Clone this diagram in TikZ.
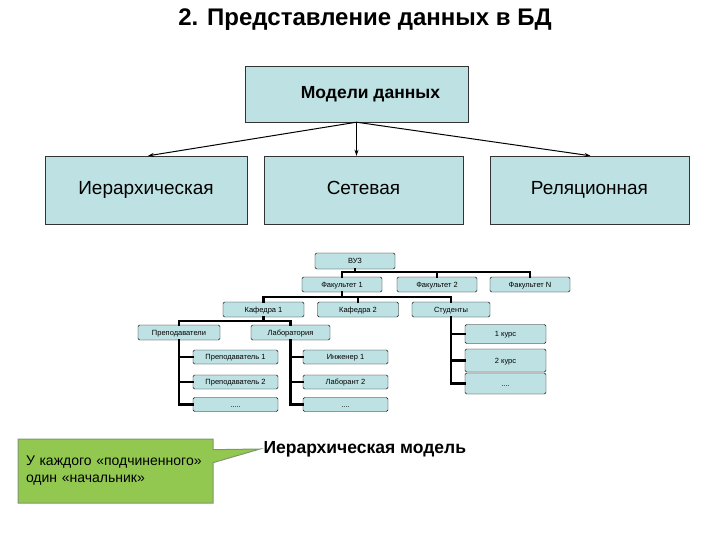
\documentclass[tikz,border=0pt]{standalone}
\usepackage{fontspec}
\setmainfont{Liberation Sans}
\usetikzlibrary{shapes.callouts,positioning,arrows.meta}
\definecolor{boxfill}{RGB}{190,226,228}
\definecolor{notefill}{RGB}{146,200,80}
\definecolor{noteedge}{RGB}{125,150,110}

\begin{document}
\begin{tikzpicture}[x=1pt, y=-1pt,
    bigbox/.style={rectangle, draw=black!80, fill=boxfill, minimum width=200pt, minimum height=68pt, font=\fontsize{19}{21}\selectfont, inner sep=0pt, text height=0.9em, text depth=0.05em},
    treebox/.style={rectangle, rounded corners=1.5pt, draw=black, fill=boxfill, minimum width=80pt, minimum height=15pt, font=\fontsize{7.5}{8}\selectfont, inner sep=0pt, text height=0.72em, text depth=0.2em},
    arrow/.style={-{Stealth[length=6pt, width=4pt]}, line width=1pt},
    bus/.style={line width=2.2pt, line cap=rect},
]
\useasboundingbox (0,0) rectangle (720,540);

% Title
\node[font=\bfseries\fontsize{24}{26}\selectfont] (title) at (365,20) {2. Представление данных в БД};

% Types of data models
\node[bigbox, minimum width=223pt, minimum height=56pt, font=\bfseries\fontsize{17.5}{20}\selectfont] (models) at (356.5,94) {\hspace*{28pt}Модели данных};
\node[bigbox, minimum width=202pt] (hier) at (146,190) {Иерархическая};
\node[bigbox, minimum width=199pt] (net) at (363.5,190) {Сетевая};
\node[bigbox, minimum width=199pt] (rel) at (589.5,190) {Реляционная};

\draw[arrow] (models.south) -- ([xshift=2pt]hier.north);
\draw[arrow] (models.south) -- (models.south |- net.north);
\draw[arrow] (models.south) -- ([xshift=1pt]rel.north);

% Hierarchical example tree
\node[treebox, minimum height=16pt] (vuz) at (355,261) {ВУЗ};
\node[treebox] (fac1) at (342,284.5) {Факультет 1};
\node[treebox] (fac2) at (437,284.5) {Факультет 2};
\node[treebox] (facN) at (530,284.5) {Факультет N};

\node[treebox, minimum width=81pt] (kaf1) at (263.5,309.5) {Кафедра 1};
\node[treebox, minimum width=81pt] (kaf2) at (358,309.5) {Кафедра 2};
\node[treebox, minimum width=78pt] (stud) at (451,309.5) {Студенты};

\node[treebox, minimum width=82pt] (prep) at (179,332.5) {Преподаватели};
\node[treebox, minimum width=79pt] (lab) at (290.5,332.5) {Лаборатория};

\node[treebox, minimum width=85pt, minimum height=14pt] (prep1) at (235.5,357) {Преподаватель 1};
\node[treebox, minimum width=85pt, minimum height=14pt] (prep2) at (235.5,382) {Преподаватель 2};
\node[treebox, minimum width=85pt, minimum height=14pt] (prepd) at (235.5,404.5) {.....};

\node[treebox, minimum width=85pt, minimum height=14pt] (eng1) at (345.5,357) {Инженер 1};
\node[treebox, minimum width=85pt, minimum height=14pt] (lbr2) at (345.5,382) {Лаборант 2};
\node[treebox, minimum width=85pt, minimum height=14pt] (labd) at (345.5,404.5) {....};

\node[treebox, minimum width=81pt, minimum height=19pt] (kurs1) at (505.5,334) {1 курс};
\node[treebox, minimum width=81pt, minimum height=23pt] (kurs2) at (505.5,360.5) {2 курс};
\node[treebox, minimum width=81pt, minimum height=21pt] (kursd) at (505.5,383.5) {....};

% Tree connectors
\coordinate (b1) at (355,272);
\draw[bus] (vuz.south) -- (b1);
\draw[bus] (fac1.north) |- (b1) -| (facN.north);
\draw[bus] (b1 -| fac2.north) -- (fac2.north);

\coordinate (b2) at (342,297);
\draw[bus] (fac1.south) -- (b2);
\draw[bus] (kaf1.north) |- (b2) -| (stud.north);
\draw[bus] (b2 -| kaf2.north) -- (kaf2.north);

\coordinate (b3) at (263.5,321);
\draw[bus] (kaf1.south) -- (b3);
\draw[bus] (prep.north) |- (b3) -| (lab.north);

\draw[bus] (prep.south) |- (prepd.west);
\draw[bus] (prep.south |- prep1.west) -- (prep1.west);
\draw[bus] (prep.south |- prep2.west) -- (prep2.west);

\draw[bus] (lab.south) |- (labd.west);
\draw[bus] (lab.south |- eng1.west) -- (eng1.west);
\draw[bus] (lab.south |- lbr2.west) -- (lbr2.west);

\draw[bus] (stud.south) |- (kursd.west);
\draw[bus] (stud.south |- kurs1.west) -- (kurs1.west);
\draw[bus] (stud.south |- kurs2.west) -- (kurs2.west);

% Caption and note
\node[font=\bfseries\fontsize{17.5}{19}\selectfont, anchor=west] (caption) at (260,449) {Иерархическая модель};
\node[rectangle callout, draw=noteedge, line width=1pt, fill=notefill, minimum width=195pt, minimum height=64pt,
      callout absolute pointer={(caption.west)}, callout pointer width=13pt,
      align=left, text width=185pt, font=\fontsize{14}{17}\selectfont] (note) at (115.5,471) {\hspace*{3pt}У каждого «подчиненного»\\\hspace*{3pt}один «начальник»};

\end{tikzpicture}
\end{document}
